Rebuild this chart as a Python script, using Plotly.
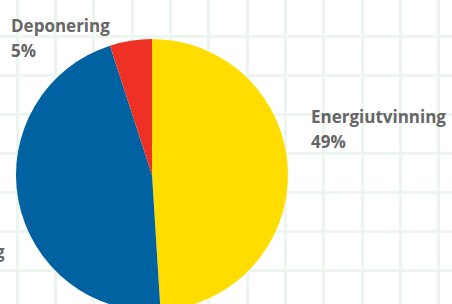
import plotly.graph_objects as go

labels = ["Energiutvinning", "Materialåtervinning", "Deponering"]
values = [49, 46, 5]
colors = ["#FFDD00", "#0062A0", "#EE3124"]

W, H = 452, 312

fig = go.Figure()
# invisible trace to enable the background grid axes
fig.add_trace(go.Scatter(x=[], y=[], showlegend=False, hoverinfo="skip"))
fig.add_trace(go.Pie(
    labels=labels, values=values, sort=False, direction="clockwise", rotation=0,
    marker=dict(colors=colors, line=dict(width=0)),
    textinfo="none", showlegend=False,
    domain=dict(x=[16 / W, 288 / W], y=[1 / H, 273 / H]),
))

# label anchor (x edge, y of name line centre, anchor side)
label_pos = [
    dict(x=309, y=116.5, xanchor="left"),
    dict(x=7, y=251.5, xanchor="right"),
    dict(x=9, y=25.5, xanchor="left"),
]
LINE_GAP = 24.5
font = dict(family="Open Sans", size=17, color="#666666")
for lab, val, p in zip(labels, values, label_pos):
    fig.add_annotation(
        x=p["x"], y=p["y"], xref="x", yref="y", xanchor=p["xanchor"], yanchor="middle",
        text=f"<b>{lab}</b>", showarrow=False, font=font,
    )
    # percentage line starts where the name line starts
    fig.add_annotation(
        x=p["x"], y=p["y"] + LINE_GAP, xref="x", yref="y", xanchor=p["xanchor"], yanchor="middle",
        text=f"<b>{val}%</b>", showarrow=False, font=font,
        xshift=0 if p["xanchor"] == "left" else -200,
    )

fig.update_layout(
    width=W, height=H, margin=dict(l=0, r=0, t=0, b=0),
    paper_bgcolor="white", plot_bgcolor="white",
    xaxis=dict(range=[0, W], showgrid=True, gridcolor="rgb(236,246,238)", gridwidth=3,
               tick0=17, dtick=38.36, showticklabels=False, zeroline=False, showline=False,
               ticks="", fixedrange=True),
    yaxis=dict(range=[H, 0], showgrid=True, gridcolor="rgb(236,246,238)", gridwidth=3,
               tick0=36.7, dtick=39, showticklabels=False, zeroline=False, showline=False,
               ticks="", fixedrange=True),
)

fig.write_html("out.html", config={"displayModeBar": False},
               post_script="document.body.style.margin='0';document.body.style.overflow='hidden';")
